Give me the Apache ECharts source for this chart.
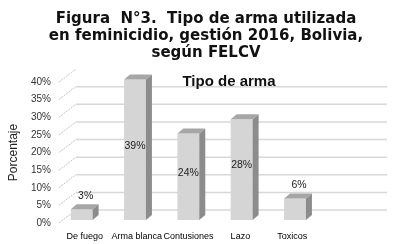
<!DOCTYPE html>
<html>
<head>
<meta charset="utf-8">
<script src="https://cdn.jsdelivr.net/npm/echarts@6/dist/echarts.min.js"></script>
<style>
	html, body { margin: 0; padding: 0; background: #fff; }
	#main { width: 394px; height: 244px; }
</style>
</head>
<body>
<div id="main"></div>
<script>
//datos del grafico
var categorias = ['De fuego', 'Arma blanca', 'Contusiones', 'Lazo', 'Toxicos'];
var porcentajes = [3, 39, 24, 28, 6];
var ticksY = [0, 5, 10, 15, 20, 25, 30, 35, 40];

var myChart = echarts.init(document.getElementById('main'), null, {renderer: 'canvas'});

//profundidad de la pared 3D y de las barras
var paredDx = 17, paredDy = -13;
var barraDx = 6, barraDy = -5;

//lineas de la pared del fondo
function dibujarPared(params, api)
{
	var y = api.coord([0, api.value(1)])[1];
	var x0 = params.coordSys.x;
	var ancho = params.coordSys.width;
	var hijos = [{
		type: 'line',
		shape: {x1: x0, y1: y, x2: x0 + paredDx, y2: y + paredDy},
		style: {stroke: '#c4c4c4', lineWidth: 1, lineDash: [2, 1]}
	}];
	if(api.value(1) < 40)
	{
		hijos.push({
			type: 'line',
			shape: {x1: x0 + paredDx, y1: y + paredDy, x2: x0 + paredDx + ancho, y2: y + paredDy},
			style: {stroke: '#d8d8d8', lineWidth: 1.5}
		});
	}
	return {type: 'group', children: hijos};
}

//barras en 3D
function dibujarBarra(params, api)
{
	var v = api.value(1);
	var arriba = api.coord([api.value(0), v]);
	var base = api.coord([api.value(0), 0]);
	var w = api.size([1, 0])[0] * 0.41;
	var x0 = arriba[0] - w / 2;
	var yt = arriba[1], yb = base[1];
	var etiqueta;
	if(v >= 10)
	{
		etiqueta = {x: x0 + w / 2, y: (yt + yb) / 2 - 4};
	}
	else
	{
		etiqueta = {x: x0 + w / 2 + 4, y: yt + barraDy - 8};
	}
	return {
		type: 'group',
		children: [{
			type: 'rect',
			shape: {x: x0, y: yt, width: w, height: yb - yt},
			style: {fill: '#d5d5d5'}
		}, {
			type: 'polygon',
			shape: {points: [[x0 + w, yt], [x0 + w + barraDx, yt + barraDy], [x0 + w + barraDx, yb + barraDy], [x0 + w, yb]]},
			style: {fill: '#8c8c8c'}
		}, {
			type: 'polygon',
			shape: {points: [[x0, yt], [x0 + barraDx, yt + barraDy], [x0 + w + barraDx, yt + barraDy], [x0 + w, yt]]},
			style: {fill: '#a6a6a6'}
		}, {
			type: 'text',
			x: etiqueta.x,
			y: etiqueta.y,
			style: {
				text: v + '%',
				fill: '#222',
				font: '10.5px "Liberation Sans", Arial, sans-serif',
				align: 'center',
				verticalAlign: 'middle'
			}
		}]
	};
}

option = {
	backgroundColor: '#fff',
	animation: false,
	title: [{
		text: 'Figura  N°3.  Tipo de arma utilizada\nen feminicidio, gestión 2016, Bolivia,\nsegún FELCV',
		left: 201,
		top: 6,
		textAlign: 'center',
		textStyle: {
			fontFamily: 'DejaVu Sans',
			fontWeight: 'bold',
			fontSize: 15,
			lineHeight: 17,
			color: '#111'
		}
	}, {
		text: 'Tipo de arma',
		left: 224,
		top: 69,
		textAlign: 'center',
		textStyle: {
			fontFamily: 'Liberation Sans',
			fontWeight: 'bold',
			fontSize: 15,
			color: '#111'
		}
	}],
	grid: [
		{left: 50, width: 320, top: 82, height: 141},
		{left: 55, width: 320, top: 76, height: 144}
	],
	xAxis: [{
		type: 'category',
		gridIndex: 0,
		data: categorias,
		max: 5,
		axisLine: {show: false},
		axisTick: {show: false},
		axisLabel: {
			interval: 0,
			margin: 9,
			fontFamily: 'Liberation Sans',
			fontSize: 9,
			color: '#000'
		}
	}, {
		type: 'category',
		gridIndex: 1,
		data: categorias,
		max: 5,
		show: false
	}],
	yAxis: [{
		type: 'value',
		gridIndex: 0,
		min: 0,
		max: 40,
		interval: 5,
		name: 'Porcentaje',
		nameLocation: 'middle',
		nameGap: 32,
		nameTextStyle: {fontFamily: 'Liberation Sans', fontSize: 12, color: '#222'},
		axisLine: {show: false},
		axisTick: {show: false},
		splitLine: {show: false},
		axisLabel: {
			formatter: '{value}%',
			margin: 8,
			fontFamily: 'Liberation Sans',
			fontSize: 10,
			color: '#333'
		}
	}, {
		type: 'value',
		gridIndex: 1,
		min: 0,
		max: 40,
		show: false
	}],
	series: [{
		name: 'pared',
		type: 'custom',
		xAxisIndex: 0,
		yAxisIndex: 0,
		clip: false,
		silent: true,
		renderItem: dibujarPared,
		data: ticksY.map(function(v){ return [0, v]; })
	}, {
		name: 'Tipo de arma',
		type: 'custom',
		xAxisIndex: 1,
		yAxisIndex: 1,
		clip: false,
		renderItem: dibujarBarra,
		data: porcentajes.map(function(v, i){ return [i, v]; })
	}]
};

myChart.setOption(option);
</script>
</body>
</html>
